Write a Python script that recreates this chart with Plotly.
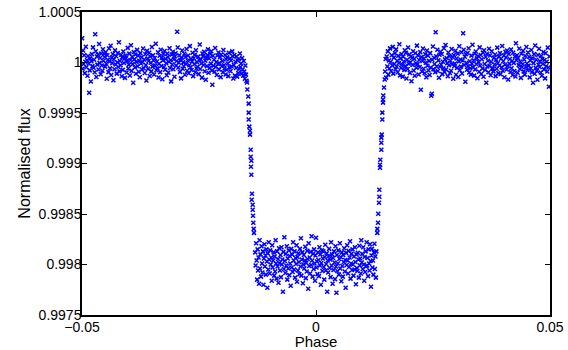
import plotly.graph_objects as go

# Phase-folded transit light curve.
# Phases are in units of 1e-5, flux offsets from 1 in parts per million.

# Out-of-transit, before ingress
pre_phase = [
    -4998, -4987, -4976, -4963, -4952, -4940, -4929, -4918, -4905, -4894,
    -4882, -4871, -4858, -4847, -4835, -4824, -4811, -4800, -4788, -4776,
    -4765, -4753, -4741, -4729, -4718, -4706, -4694, -4682, -4671, -4659,
    -4647, -4635, -4624, -4611, -4600, -4588, -4577, -4564, -4553, -4541,
    -4529, -4518, -4505, -4494, -4482, -4470, -4459, -4447, -4435, -4423,
    -4411, -4400, -4388, -4376, -4364, -4353, -4341, -4329, -4317, -4306,
    -4294, -4282, -4270, -4258, -4247, -4235, -4223, -4211, -4200, -4188,
    -4176, -4164, -4152, -4141, -4129, -4117, -4105, -4094, -4082, -4070,
    -4058, -4047, -4035, -4023, -4011, -4000, -3988, -3976, -3964, -3953,
    -3941, -3929, -3917, -3906, -3894, -3882, -3870, -3859, -3847, -3835,
    -3823, -3812, -3800, -3788, -3776, -3765, -3753, -3741, -3729, -3718,
    -3706, -3694, -3682, -3671, -3659, -3647, -3635, -3624, -3612, -3600,
    -3588, -3577, -3565, -3553, -3541, -3530, -3518, -3506, -3494, -3483,
    -3471, -3459, -3447, -3436, -3424, -3412, -3400, -3389, -3377, -3365,
    -3353, -3342, -3330, -3318, -3306, -3295, -3283, -3271, -3259, -3248,
    -3236, -3224, -3212, -3201, -3189, -3177, -3165, -3154, -3142, -3130,
    -3118, -3107, -3095, -3083, -3071, -3060, -3048, -3036, -3024, -3013,
    -3001, -2989, -2977, -2966, -2954, -2942, -2930, -2919, -2907, -2895,
    -2883, -2872, -2860, -2848, -2836, -2825, -2813, -2801, -2789, -2778,
    -2766, -2754, -2742, -2731, -2719, -2707, -2695, -2684, -2672, -2660,
    -2648, -2637, -2625, -2613, -2601, -2590, -2578, -2566, -2554, -2543,
    -2531, -2519, -2507, -2496, -2484, -2472, -2460, -2449, -2437, -2425,
    -2413, -2402, -2390, -2378, -2366, -2355, -2343, -2331, -2319, -2308,
    -2296, -2284, -2272, -2261, -2249, -2237, -2225, -2214, -2202, -2190,
    -2178, -2167, -2155, -2143, -2131, -2120, -2108, -2096, -2084, -2073,
    -2061, -2049, -2037, -2026, -2014, -2002, -1990, -1979, -1967, -1955,
    -1943, -1932, -1920, -1908, -1896, -1885, -1873, -1861, -1849, -1838,
    -1826, -1814, -1802, -1791, -1779, -1767, -1755, -1744, -1732, -1720,
    -1708, -1697, -1685, -1673, -1661, -1650, -1638, -1626, -1614, -1603,
    -1591, -1579, -1567, -1556, -1544, -1532, -1520, -1509, -1497, -1485,
]
pre_flux = [
    240, -62, 118, -14, 71, -105, 8, 156, -47, 22,
    -131, 64, -9, -300, -78, 41, -188, 12, 83, -36,
    150, -52, 27, -96, 280, 112, -143, 60, -21, 78,
    -69, 183, -4, 44, -117, 90, -30, -82, 131, 17,
    88, 54, -41, 101, -12, -160, 72, 26, -95, 139,
    9, -58, 166, -123, 48, -7, 85, -176, 33, -66,
    120, -19, 61, -110, 2, 94, -45, 200, -88, 15,
    -27, 76, -137, 51, -73, 109, -5, 37, -152, 68,
    43, -99, 12, 145, -60, -21, 88, -128, 24, 170,
    -83, 57, -16, -201, 104, 31, -49, 79, -112, 6,
    125, -38, 66, -91, 18, -146, 93, -10, 52, -70,
    3, 138, -57, 29, -104, 81, -25, -179, 115, 40,
    -63, 14, 97, -133, 59, -2, -88, 154, -41, 72,
    19, -118, 45, -30, 186, -77, 10, -58, 102, -149,
    -12, 67, -95, 127, -35, 48, -165, 21, 84, -44,
    113, -71, 36, -8, -126, 90, 55, -99, 7, 141,
    -54, 23, -187, 78, -20, 107, -66, 32, -141, 62,
    92, -29, 15, 305, 148, -50, -3, 71, -93, 26,
    -157, 46, 119, -62, 1, -38, 87, -121, 54, -15,
    134, -82, 20, 69, -106, -27, 162, -47, 38, -75,
    11, 96, -135, 43, -18, 76, -97, 121, -59, 4,
    -42, 58, -115, 24, 178, -64, 30, -9, -150, 89,
    63, -24, 105, -86, 17, -170, 48, -36, 73, 130,
    -102, 39, -53, 85, -11, 111, -79, -220, 66, -33,
    28, -92, 143, -45, 5, -124, 70, -14, 99, -68,
    -8, 53, -145, 80, -37, 16, -96, 124, -27, -60,
    74, -119, 33, -72, 51, -10, -135, 95, -48, 40,
    -87, 20, -40, 110, 62, -158, -25, 75, -130, 8,
    -55, 60, -140, 20, -105, 35, -65, 90, -45, -10,
    -110, 45, -70, -130, 15, -90, -160, -30, -120, -180,
]

# Ingress
ingress_phase = [
    -1474, -1468, -1447, -1438, -1438, -1438, -1425, -1410, -1410, -1395, -1395,
    -1382, -1389, -1382, -1368, -1374, -1353, -1353, -1346, -1340, -1331, -1325,
]
ingress_flux = [
    -198, -268, -337, -407, -496, -565, -635, -675, -714, -863, -933,
    -972, -1032, -1111, -1300, -1359, -1409, -1458, -1518, -1587, -1647, -1687,
]

# In transit
transit_phase = [
    -1300, -1290, -1279, -1269, -1258, -1248, -1238, -1227, -1217, -1206,
    -1196, -1186, -1175, -1165, -1154, -1144, -1134, -1123, -1113, -1102,
    -1092, -1082, -1071, -1061, -1050, -1040, -1030, -1019, -1009, -998,
    -988, -978, -967, -957, -946, -936, -926, -915, -905, -894,
    -884, -874, -863, -853, -842, -832, -822, -811, -801, -790,
    -780, -770, -759, -749, -738, -728, -718, -707, -697, -686,
    -676, -666, -655, -645, -634, -624, -614, -603, -593, -582,
    -572, -562, -551, -541, -530, -520, -510, -499, -489, -478,
    -468, -458, -447, -437, -426, -416, -406, -395, -385, -374,
    -364, -354, -343, -333, -322, -312, -302, -291, -281, -270,
    -260, -250, -239, -229, -218, -208, -198, -187, -177, -166,
    -156, -146, -135, -125, -114, -104, -94, -83, -73, -62,
    -52, -42, -31, -21, -10, 0, 10, 21, 31, 42,
    52, 62, 73, 83, 94, 104, 114, 125, 135, 146,
    156, 166, 177, 187, 198, 208, 218, 229, 239, 250,
    260, 270, 281, 291, 302, 312, 322, 333, 343, 354,
    364, 374, 385, 395, 406, 416, 426, 437, 447, 458,
    468, 478, 489, 499, 510, 520, 530, 541, 551, 562,
    572, 582, 593, 603, 614, 624, 634, 645, 655, 666,
    676, 686, 697, 707, 718, 728, 738, 749, 759, 770,
    780, 790, 801, 811, 822, 832, 842, 853, 863, 874,
    884, 894, 905, 915, 926, 936, 946, 957, 967, 978,
    988, 998, 1009, 1019, 1030, 1040, 1050, 1061, 1071, 1082,
    1092, 1102, 1113, 1123, 1134, 1144, 1154, 1165, 1175, 1186,
    1196, 1206, 1217, 1227, 1238, 1248, 1258, 1269, 1279, 1290,
]
transit_flux = [
    -1880, -2010, -1790, -1960, -2150, -1850, -2060, -1930, -2190, -1760,
    -2040, -1900, -2120, -1820, -1990, -2080, -1870, -2200, -1940, -1800,
    -2020, -1910, -2100, -1850, -1970, -2230, -1890, -2050, -1780, -1950,
    -2090, -1860, -2000, -1930, -2160, -1810, -2030, -1960, -1880, -2110,
    -1920, -2070, -1760, -1990, -2140, -1870, -2020, -1945, -2180, -1840,
    -1985, -2060, -1905, -2125, -1830, -2000, -1950, -2270, -1875, -2045,
    -1730, -1965, -2085, -1895, -2010, -1820, -2150, -1940, -2040, -1860,
    -2105, -1915, -1990, -2210, -1845, -2030, -1900, -2075, -1780, -1960,
    -2050, -1870, -2130, -1935, -1995, -1810, -2170, -1925, -2060, -1890,
    -1975, -2095, -1845, -2020, -1740, -2110, -1950, -1880, -2185, -2000,
    -1905, -2040, -1960, -1825, -2135, -1985, -2070, -1865, -1945, -2240,
    -1790, -2015, -1930, -2090, -1875, -2005, -1720, -1960, -2120, -1895,
    -2045, -1850, -1990, -2160, -1910, -1735, -2030, -1970, -2095, -1880,
    -1955, -2115, -1830, -2010, -1900, -2200, -1985, -1860, -2065, -1940,
    -1870, -2025, -2150, -1925, -1805, -2060, -1995, -1890, -2270, -1960,
    -2080, -1915, -1845, -2035, -1950, -2125, -1780, -2010, -1900, -2190,
    -1935, -2055, -1870, -1980, -2145, -1820, -2020, -2280, -1905, -2065,
    -1990, -1860, -2100, -1945, -1790, -2040, -1925, -2165, -1880, -2015,
    -2120, -1905, -1975, -1840, -2070, -1955, -2230, -1885, -2005, -1810,
    -1960, -2090, -1865, -2025, -1930, -1770, -2140, -1990, -1895, -2055,
    -1850, -2000, -2110, -1920, -2050, -1830, -1975, -2195, -1900, -2035,
    -2065, -1885, -1950, -2130, -1815, -2010, -1940, -2090, -1760, -1980,
    -1895, -2045, -1830, -2000, -2160, -1925, -2075, -1870, -2020, -1780,
    -2010, -1935, -2115, -1850, -1990, -2060, -1800, -1965, -2220, -1910,
    -1845, -2030, -1960, -2100, -1880, -1795, -2045, -1920, -2130, -1870,
]

# Egress
egress_phase = [
    1310, 1310, 1325, 1331, 1346, 1353, 1353, 1368, 1368, 1374, 1395,
    1395, 1395, 1404, 1417, 1417, 1432, 1432, 1438, 1453, 1468,
]
egress_flux = [
    -1687, -1647, -1587, -1498, -1389, -1329, -1260, -1042, -1012, -962, -863,
    -794, -744, -714, -565, -496, -397, -367, -327, -248, -169,
]

# Out-of-transit, after egress
post_phase = [
    1476, 1488, 1499, 1511, 1523, 1535, 1546, 1558, 1570, 1582,
    1593, 1605, 1617, 1629, 1640, 1652, 1664, 1676, 1687, 1699,
    1711, 1723, 1734, 1746, 1758, 1770, 1781, 1793, 1805, 1817,
    1828, 1840, 1852, 1864, 1875, 1887, 1899, 1911, 1922, 1934,
    1946, 1958, 1969, 1981, 1993, 2005, 2016, 2028, 2040, 2052,
    2063, 2075, 2087, 2099, 2110, 2122, 2134, 2146, 2157, 2169,
    2181, 2193, 2204, 2216, 2228, 2240, 2251, 2263, 2275, 2287,
    2298, 2310, 2322, 2334, 2345, 2357, 2369, 2381, 2392, 2404,
    2416, 2428, 2439, 2451, 2463, 2475, 2486, 2498, 2510, 2522,
    2533, 2545, 2557, 2569, 2580, 2592, 2604, 2616, 2627, 2639,
    2651, 2663, 2674, 2686, 2698, 2710, 2721, 2733, 2745, 2757,
    2768, 2780, 2792, 2804, 2815, 2827, 2839, 2851, 2862, 2874,
    2886, 2898, 2909, 2921, 2933, 2945, 2956, 2968, 2980, 2992,
    3003, 3015, 3027, 3039, 3050, 3062, 3074, 3086, 3097, 3109,
    3121, 3133, 3144, 3156, 3168, 3180, 3191, 3203, 3215, 3227,
    3238, 3250, 3262, 3274, 3285, 3297, 3309, 3321, 3332, 3344,
    3356, 3368, 3379, 3391, 3403, 3415, 3426, 3438, 3450, 3462,
    3473, 3485, 3497, 3509, 3520, 3532, 3544, 3556, 3567, 3579,
    3591, 3603, 3614, 3626, 3638, 3650, 3661, 3673, 3685, 3697,
    3708, 3720, 3732, 3744, 3755, 3767, 3779, 3791, 3802, 3814,
    3826, 3838, 3849, 3861, 3873, 3885, 3896, 3908, 3920, 3932,
    3943, 3955, 3967, 3979, 3990, 4002, 4014, 4026, 4037, 4049,
    4061, 4073, 4084, 4096, 4108, 4120, 4131, 4143, 4155, 4167,
    4178, 4190, 4202, 4214, 4225, 4237, 4249, 4261, 4272, 4284,
    4296, 4308, 4319, 4331, 4343, 4355, 4366, 4378, 4390, 4402,
    4413, 4425, 4437, 4449, 4460, 4472, 4484, 4496, 4507, 4519,
    4531, 4543, 4554, 4566, 4578, 4590, 4601, 4613, 4625, 4637,
    4648, 4660, 4672, 4684, 4695, 4707, 4719, 4731, 4742, 4754,
    4766, 4778, 4789, 4801, 4813, 4825, 4836, 4848, 4860, 4872,
    4883, 4895, 4907, 4919, 4930, 4942, 4954, 4966, 4977, 4989,
]
post_flux = [
    -90, 35, -150, 60, -40, 110, -120, 20, -60, 140,
    5, -85, 72, -30, 155, -110, 48, -15, 92, -67,
    130, -42, 18, -97, 66, -5, 181, -128, 39, -55,
    84, -20, -140, 57, 10, -73, 121, -36, 95, -158,
    27, -64, 148, -11, 79, -103, 3, 62, -185, 44,
    -25, 112, -79, 36, -132, 91, -8, -52, 167, -16,
    70, -118, 24, -45, 103, -270, 55, -89, 14, 138,
    -61, 40, -107, 82, -3, -146, 119, -33, 68, -80,
    16, -124, 93, -50, -330, -310, 28, 159, -68, 47,
    -14, -96, 300, 62, -39, 127, -84, 21, -151, 76,
    -43, 106, -22, 85, -115, 8, -58, 142, -93, 31,
    173, -70, 45, -6, -137, 99, -28, 63, -104, 18,
    -82, 134, -17, 52, -161, 74, -35, -9, 116, -122,
    39, -53, 88, -144, 11, 160, -76, 29, -41, 101,
    -108, 19, 290, 126, -24, 57, -190, 83, -2, -71,
    94, -37, 142, -99, 13, -56, -120, 68, -12, 176,
    -47, 23, -130, 87, -68, 109, -18, 41, -156, 64,
    6, -92, 150, -29, 75, -113, 32, -60, 98, -141,
    121, -15, -74, 55, -200, 86, -40, 17, -97, 137,
    -33, 69, -126, 8, 111, -54, -65, -88, 46, -19,
    80, -135, 26, -62, 147, -7, -105, 58, -30, 93,
    -116, 37, -48, 164, -81, 12, 70, -146, -23, 105,
    50, -70, 118, -37, -168, 84, -11, 34, -94, 129,
    -57, 15, -123, 96, -4, -85, 60, -139, 190, 22,
    72, -101, 44, -26, 139, -64, 9, -152, 87, -45,
    -18, 117, -88, 30, -120, 66, -42, 153, -10, -76,
    99, -31, 57, -147, 20, -60, 124, -95, 41, -200,
    -6, 83, -112, 169, -53, 28, -83, -170, 74, -22,
    137, -44, 11, -99, 64, -131, 36, -15, 103, -68,
    25, -157, 91, -38, 8, -89, 147, -50, -240, 60,
]

x_tick_vals = [-0.05, 0, 0.05]
x_tick_text = ["\u22120.05", "0", "0.05"]
y_tick_vals = [0.9975, 0.998, 0.9985, 0.999, 0.9995, 1.0, 1.0005]
y_tick_text = ["0.9975", "0.998", "0.9985", "0.999", "0.9995", "1", "1.0005"]

segments = [
    (pre_phase, pre_flux),
    (ingress_phase, ingress_flux),
    (transit_phase, transit_flux),
    (egress_phase, egress_flux),
    (post_phase, post_flux),
]
phase = []
flux = []
for ph, fl in segments:
    for p, f in zip(ph, fl):
        phase.append(p * 1e-5)
        flux.append(1.0 + f * 1e-6)

font_family = "Liberation Sans, Arial, Helvetica, sans-serif"

fig = go.Figure()
fig.add_trace(go.Scatter(
    x=phase, y=flux, mode="markers",
    marker=dict(symbol="x-thin", size=4, color="#0000ff",
                line=dict(width=1.5, color="#0000ff")),
    showlegend=False, hoverinfo="skip",
))

axis_common = dict(
    showgrid=False, zeroline=False, automargin=False,
    showline=True, linecolor="black", linewidth=1.5, mirror="ticks",
    ticks="inside", ticklen=5, tickwidth=1, tickcolor="black",
    tickfont=dict(family=font_family, size=14, color="black"),
)

fig.update_xaxes(
    range=[-0.05, 0.05], tickvals=x_tick_vals, ticktext=x_tick_text,
    title=dict(text="Phase", standoff=4,
               font=dict(family=font_family, size=15, color="black")),
    ticklabelstandoff=-2,
    **axis_common,
)
fig.update_yaxes(
    range=[0.9975, 1.0005], tickvals=y_tick_vals, ticktext=y_tick_text,
    title=dict(text="Normalised flux", standoff=4,
               font=dict(family=font_family, size=16, color="black")),
    ticklabelstandoff=-4,
    **axis_common,
)

fig.update_layout(
    width=568, height=350,
    margin=dict(l=82, r=18, t=12, b=35),
    paper_bgcolor="white", plot_bgcolor="white",
)

fig.write_html("out.html")
